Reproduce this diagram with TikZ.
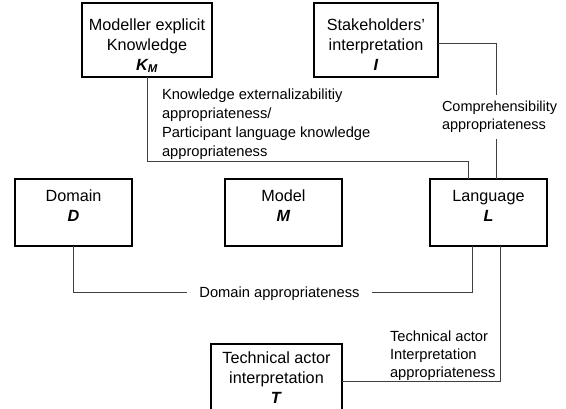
\documentclass[tikz,border=0pt]{standalone}
\usepackage{fontspec}
\setmainfont{Liberation Sans}
\usetikzlibrary{positioning}

\begin{document}
\begin{tikzpicture}[x=1pt,y=-1pt,
                       main node/.style={rectangle,draw=black,line width=1.3pt,
                                         inner sep=0pt,outer sep=0pt},
                       box text/.style={align=center,inner sep=0pt,outer sep=0pt,
                                        font=\fontsize{16.2}{20}\selectfont},
                       label node/.style={align=left,inner sep=0pt,outer sep=0pt,
                                          font=\fontsize{14.7}{19}\selectfont},
                       conn/.style={draw=black!75,line width=0.8pt}
                      ]
   \clip (0,0) rectangle (566,408);
   % boxes
   \node[main node,minimum width=130pt,minimum height=74pt] (km) at (147,40) {};
   \node[main node,minimum width=124pt,minimum height=74pt] (interp) at (376,40) {};
   \node[main node,minimum width=117pt,minimum height=67pt] (dom) at (73.5,212.5) {};
   \node[main node,minimum width=117pt,minimum height=67pt] (mod) at (283.5,212.5) {};
   \node[main node,minimum width=117pt,minimum height=67pt] (lang) at (488.5,212.5) {};
   \node[main node,minimum width=131pt,minimum height=74pt] (tech) at (276.5,381) {};
   % box texts
   \node[box text,below=15.6pt of km.north] (km-t)
        {Modeller explicit\\Knowledge\\\textbf{\textit{K\textsubscript{M}}}};
   \node[box text,below=15.6pt of interp.north] (interp-t)
        {Stakeholders'\\interpretation\\\textbf{\textit{I}}};
   \node[box text,below=11.2pt of dom.north] (dom-t) {Domain\\\textbf{\textit{D}}};
   \node[box text,below=11.2pt of mod.north] (mod-t) {Model\\\textbf{\textit{M}}};
   \node[box text,below=11.2pt of lang.north] (lang-t) {Language\\\textbf{\textit{L}}};
   \node[box text,below=8pt of tech.north] (tech-t)
        {Technical actor\\interpretation\\\textbf{\textit{T}}};
   % connectors
   \coordinate (kmbend) at (468,161);
   \coordinate (dombend) at (472,292);
   \draw[conn] (km.south) |- (kmbend) -- (kmbend |- lang.north);
   \draw[conn] ([yshift=-3pt]interp.east) -| ([xshift=7.5pt]lang.north);
   \draw[conn] (dom.south) |- (dombend) -- (dombend |- lang.south);
   \draw[conn] (tech.east) -| ([xshift=11.5pt]lang.south);
   % connector labels
   \node[label node,anchor=north west] (kx-l) at (162,88.5)
        {Knowledge externalizabilitiy\\appropriateness/\\Participant language knowledge\\appropriateness};
   \node[label node,anchor=north west,fill=white,inner xsep=2pt,inner ysep=6pt,
         font=\fontsize{14.5}{18}\selectfont] (comp-l) at (440,95.4)
        {Comprehensibility\\appropriateness};
   \node[label node,anchor=base,fill=white,inner xsep=12pt,inner ysep=2pt] (dom-l)
        at (279.5,297) {Domain appropriateness};
   \node[label node,anchor=north west,font=\fontsize{14.7}{18}\selectfont] (tech-l)
        at (390,330.4) {Technical actor\\Interpretation\\appropriateness};
  \end{tikzpicture}
\end{document}
